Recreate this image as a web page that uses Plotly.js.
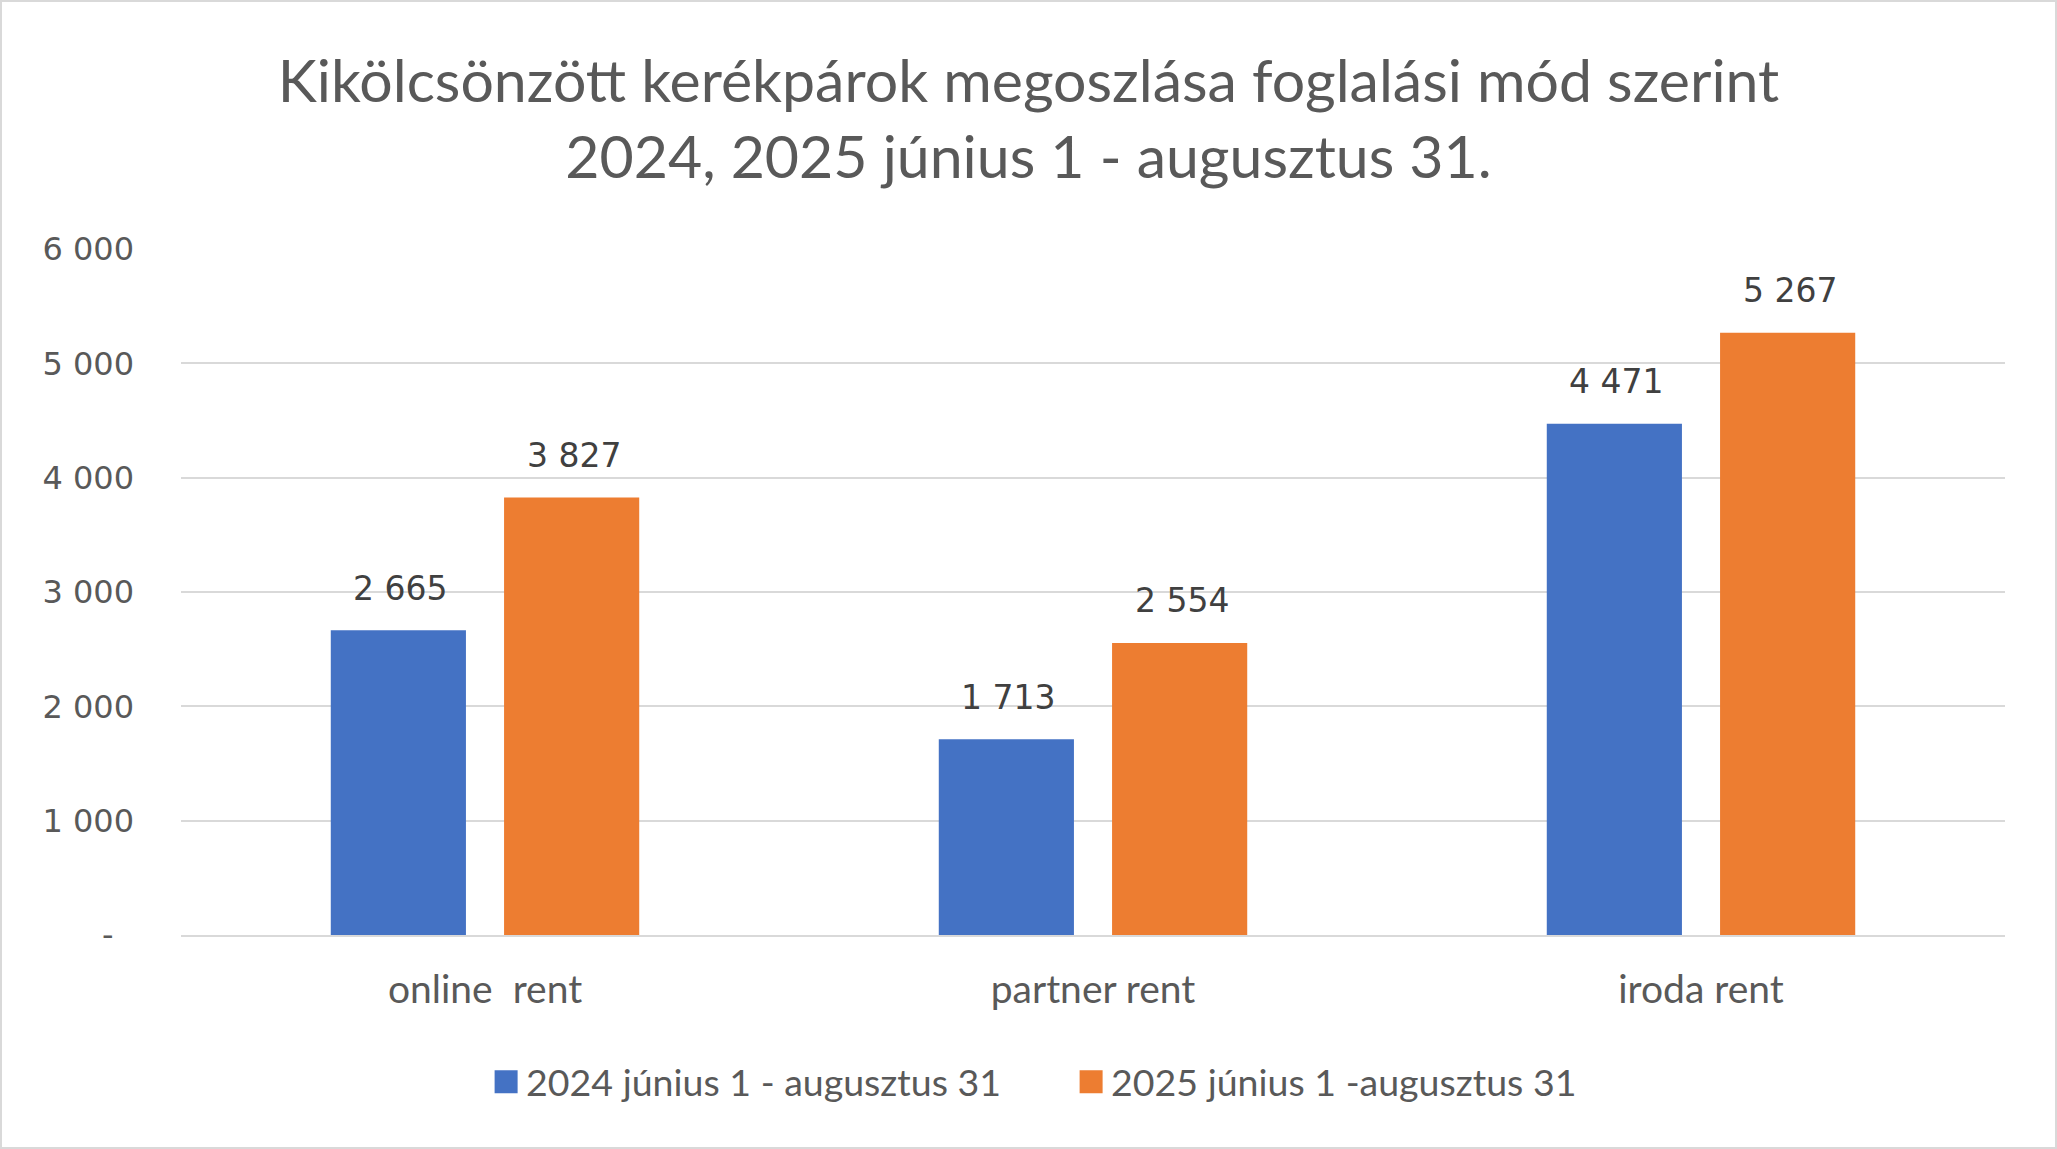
<!DOCTYPE html>
<html>
<head>
<meta charset="utf-8">
<script src="https://cdn.plot.ly/plotly-3.0.1.min.js"></script>
<style>
  html, body { margin: 0; padding: 0; background: #ffffff; }
  #chart { width: 2057px; height: 1149px; box-sizing: border-box; border: 2px solid #d9d9d9; }
</style>
</head>
<body>
<div id="chart"></div>
<script>
const categories = ['online \u00a0rent', 'partner rent', 'iroda rent'];
const seriesNames = ['2024 június 1 - augusztus 31', '2025 június 1 -augusztus 31'];
const values2024 = [2665, 1713, 4471];
const values2025 = [3827, 2554, 5267];
const tickVals = [0, 1000, 2000, 3000, 4000, 5000, 6000];
const tickText = ['-\u2007', '1 000', '2 000', '3 000', '4 000', '5 000', '6 000'];
const titleText = 'Kikölcsönzött kerékpárok megoszlása foglalási mód szerint<br>2024, 2025 június 1 - augusztus 31.';

const colors = ['#4472C4', '#ED7D31'];
const seriesValues = [values2024, values2025];
const offsets = [-86.6, 86.6];

function fmt(v) { return String(v).replace(/\B(?=(\d{3})+(?!\d))/g, ' '); }

const traces = seriesValues.map((vals, i) => ({
  type: 'bar',
  name: seriesNames[i],
  x: categories,
  y: vals,
  marker: { color: colors[i] },
  hoverinfo: 'skip'
}));

const annotations = [];
seriesValues.forEach((vals, i) => {
  vals.forEach((v, j) => {
    annotations.push({
      x: categories[j], y: v, xref: 'x', yref: 'y',
      text: fmt(v), showarrow: false,
      xshift: offsets[i] + 2, yshift: 42, yanchor: 'middle',
      font: { family: 'DejaVu Sans', size: 33, color: '#404040' }
    });
  });
});

const layout = {
  width: 2053, height: 1145,
  margin: { l: 179, r: 50, t: 247, b: 212 },
  paper_bgcolor: '#ffffff', plot_bgcolor: '#ffffff',
  separators: ', ',
  title: {
    text: titleText,
    font: { family: 'Lato', size: 59, color: '#595959' },
    x: 0.5, xanchor: 'center', xref: 'container',
    y: 0.913, yanchor: 'top', yref: 'container'
  },
  barmode: 'group', bargap: 0.43, bargroupgap: 0.22,
  xaxis: {
    type: 'category',
    showgrid: false, zeroline: false,
    showline: true, linecolor: '#d9d9d9', linewidth: 2,
    ticks: '', ticklabelstandoff: 19,
    tickfont: { family: 'Lato', size: 39, color: '#595959' }
  },
  yaxis: {
    range: [0, 6000],
    tickvals: tickVals, ticktext: tickText,
    showgrid: true, gridcolor: '#d9d9d9', gridwidth: 2,
    zeroline: false, showline: false,
    ticks: '', ticklabelstandoff: 46,
    tickfont: { family: 'DejaVu Sans', size: 32, color: '#595959' }
  },
  showlegend: true,
  legend: {
    orientation: 'h', x: 0.488, xanchor: 'center', y: -0.214, yanchor: 'middle',
    entrywidth: 540, entrywidthmode: 'pixels',
    font: { family: 'Lato', size: 37.5, color: '#595959' }
  },
  annotations: annotations
};

Plotly.newPlot('chart', traces, layout, { staticPlot: true, displayModeBar: false }).then(gd => {
  gd.querySelectorAll('.legendpoints path').forEach(p => {
    p.setAttribute('d', 'M11.5,11.5H-11.5V-11.5H11.5Z');
  });
});
</script>
</body>
</html>
